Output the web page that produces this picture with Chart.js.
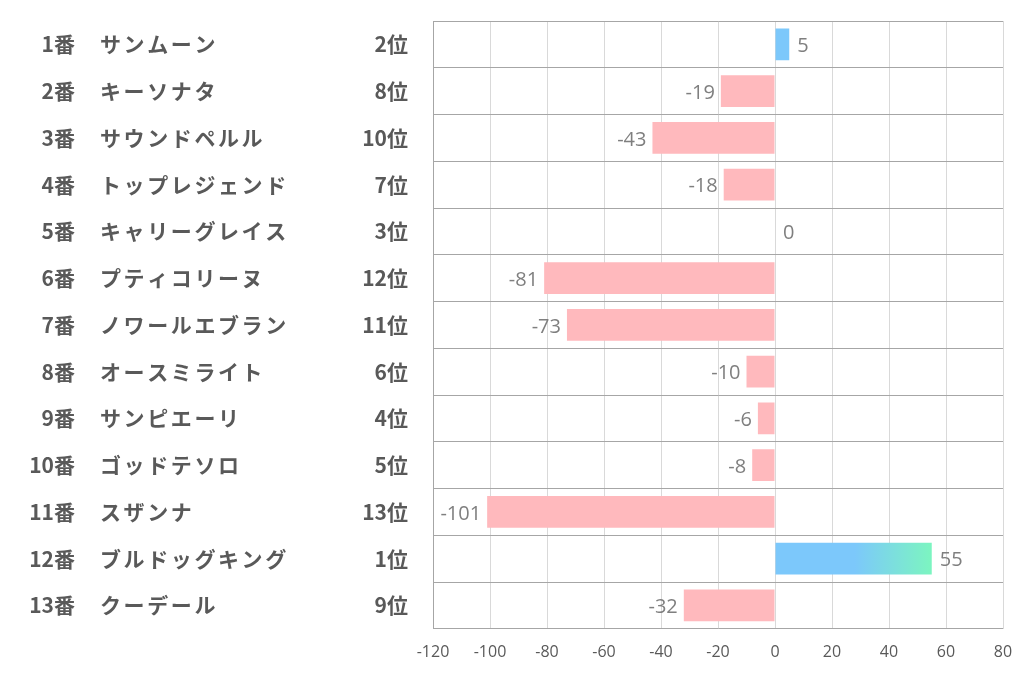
<!DOCTYPE html>
<html>
<head>
<meta charset="utf-8">
<script src="https://cdn.jsdelivr.net/npm/chart.js@4"></script>
<style>
  html, body { margin: 0; padding: 0; background: #fff; }
  #wrap { width: 1022px; height: 678px; }
</style>
</head>
<body>
<div id="wrap"><canvas id="chart" width="1022" height="678"></canvas></div>
<script>
// data
const numbers = ["1番", "2番", "3番", "4番", "5番", "6番", "7番", "8番", "9番", "10番", "11番", "12番", "13番"];
const names = ["サンムーン", "キーソナタ", "サウンドペルル", "トップレジェンド", "キャリーグレイス", "プティコリーヌ", "ノワールエブラン", "オースミライト", "サンピエーリ", "ゴッドテソロ", "スザンナ", "ブルドッグキング", "クーデール"];
const ranks = ["2位", "8位", "10位", "7位", "3位", "12位", "11位", "6位", "4位", "5位", "13位", "1位", "9位"];
const values = [5, -19, -43, -18, 0, -81, -73, -10, -6, -8, -101, 55, -32];

const xMin = -120, xMax = 80, xStep = 20;

const labelFont = 'bold 21px "Noto Sans CJK JP", sans-serif';
const valueFont = '20px "Open Sans", "Noto Sans", sans-serif';

// bar colours: pink for negatives, blue->green for positives
function barColor(ctx) {
  const v = ctx.raw;
  if (v < 0) return "#ffb9bd";
  const chart = ctx.chart;
  const area = chart.chartArea;
  if (!area) return "#7cc8fb";
  const xs = chart.scales.x;
  const g = chart.ctx.createLinearGradient(xs.getPixelForValue(28), 0, xs.getPixelForValue(55), 0);
  g.addColorStop(0, "#7cc8fb");
  g.addColorStop(1, "#7cf5c0");
  return g;
}

// left side labels: number, name, rank
const rowLabels = {
  id: "rowLabels",
  afterDraw(chart) {
    const c = chart.ctx;
    const ys = chart.scales.y;
    c.save();
    c.font = labelFont;
    c.fillStyle = "#595959";
    c.textBaseline = "middle";
    numbers.forEach((n, i) => {
      const y = ys.getPixelForValue(i);
      c.letterSpacing = "0px";
      c.textAlign = "right";
      c.fillText(n, 75, y);
      c.fillText(ranks[i], 408, y);
      c.letterSpacing = "2.6px";
      c.textAlign = "left";
      c.fillText(names[i], 100, y);
    });
    c.letterSpacing = "0px";
    c.restore();
  }
};

// value labels at bar ends
const valueLabels = {
  id: "valueLabels",
  afterDatasetsDraw(chart) {
    const c = chart.ctx;
    const meta = chart.getDatasetMeta(0);
    c.save();
    c.font = valueFont;
    c.fillStyle = "#7f7f7f";
    c.textBaseline = "middle";
    meta.data.forEach((bar, i) => {
      const v = values[i];
      if (v < 0) {
        c.textAlign = "right";
        c.fillText(String(v), bar.x - 6, bar.y + 2);
      } else {
        c.textAlign = "left";
        c.fillText(String(v), bar.x + 8, bar.y + 2);
      }
    });
    c.restore();
  }
};

new Chart(document.getElementById("chart"), {
  type: "bar",
  data: {
    labels: names,
    datasets: [{
      data: values,
      backgroundColor: barColor,
      borderWidth: 0,
      categoryPercentage: 1,
      barPercentage: 0.68
    }]
  },
  options: {
    indexAxis: "y",
    responsive: false,
    animation: false,
    layout: { padding: { left: 433, top: 21, right: 0, bottom: 2 } },
    plugins: { legend: { display: false }, tooltip: { enabled: false } },
    scales: {
      x: {
        min: xMin,
        max: xMax,
        ticks: { stepSize: xStep, color: "#595959", font: { size: 16, family: '"Open Sans", sans-serif' }, padding: 14 },
        grid: { color: "#d9d9d9", drawTicks: false },
        border: { display: false },
        afterFit(scale) { scale.paddingRight = 19; }
      },
      y: {
        ticks: { display: false },
        grid: { color: "#a6a6a6", drawTicks: false, offset: true },
        border: { color: "#a6a6a6" }
      }
    }
  },
  plugins: [rowLabels, valueLabels]
});
</script>
</body>
</html>
